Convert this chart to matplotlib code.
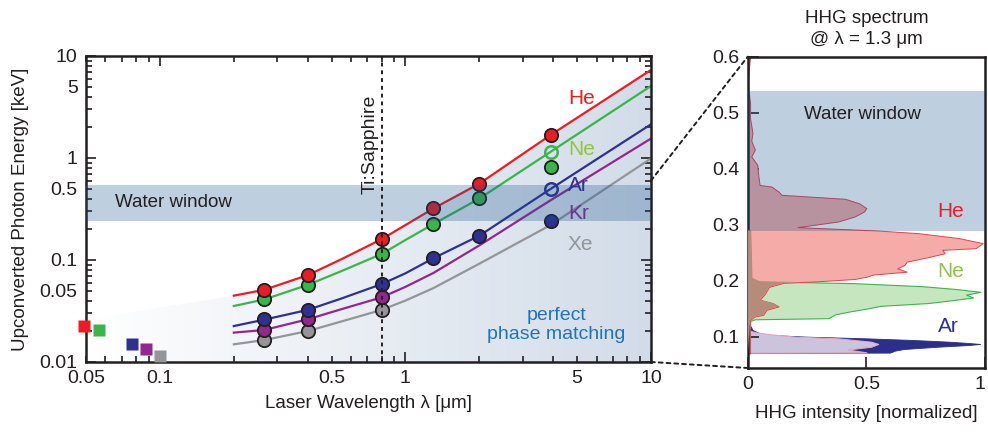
import numpy as np
import matplotlib
matplotlib.use('Agg')
import matplotlib.pyplot as plt
from matplotlib.patches import Polygon, ConnectionPatch
from matplotlib.colors import LinearSegmentedColormap
from matplotlib.ticker import FixedLocator, FuncFormatter

plt.rcParams['font.family'] = ['Liberation Sans', 'DejaVu Sans']

# ---------------- data: left panel ----------------
lam_curve = [0.2, 0.266, 0.4, 0.55, 0.8, 1.0, 1.3, 2.0, 3.9, 10.0]
curve_He = [0.0447, 0.051, 0.071, 0.102, 0.160, 0.22, 0.32, 0.56, 1.68, 7.3]
curve_Ne = [0.0354, 0.041, 0.057, 0.078, 0.1145, 0.157, 0.225, 0.40, 1.15, 5.08]
curve_Ar = [0.0225, 0.026, 0.0324, 0.042, 0.058, 0.074, 0.104, 0.173, 0.497, 2.14]
curve_Kr = [0.0194, 0.0206, 0.0262, 0.033, 0.043, 0.0545, 0.0746, 0.139, 0.385, 1.55]
curve_Xe = [0.0149, 0.0164, 0.0201, 0.025, 0.0324, 0.040, 0.053, 0.092, 0.22, 0.99]

lam_dots = [0.266, 0.4, 0.8, 1.3, 2.0, 3.9]
dots_He = [0.0508, 0.0708, 0.16, 0.321, 0.556, 1.68]
dots_Ne = [0.0415, 0.0569, 0.1145, 0.225, 0.403, 0.82]
dots_Ar = [0.0262, 0.0324, 0.058, 0.104, 0.173, 0.243]
lam_dots_short = [0.266, 0.4, 0.8]
dots_Kr = [0.0206, 0.0262, 0.043]
dots_Xe = [0.0164, 0.0201, 0.0324]

lam_open = [3.9]
open_Ne = [1.15]
open_Ar = [0.497]

sq_lam = [0.0493, 0.0566, 0.0767, 0.0877, 0.1004]
sq_E = [0.0227, 0.0206, 0.0149, 0.0134, 0.0115]

shade_start = (0.05, 0.026)
water_left = (0.243, 0.543)
ti_sapphire = 0.8

gases = ['He', 'Ne', 'Ar', 'Kr', 'Xe']

# ---------------- data: right panel ----------------
He_E = [0.07, 0.13, 0.136, 0.139, 0.148, 0.154, 0.16, 0.166, 0.175, 0.189, 0.196, 0.199,
        0.203, 0.207, 0.211, 0.216, 0.222, 0.228, 0.234, 0.242, 0.249, 0.255, 0.258, 0.267,
        0.276, 0.2848, 0.2895, 0.2956, 0.3056, 0.3145, 0.3235, 0.3295, 0.338, 0.3462, 0.3533,
        0.359, 0.368, 0.371, 0.386, 0.407, 0.422, 0.434, 0.45, 0.464, 0.49, 0.517, 0.55, 0.58, 0.6]
He_I = [0.01, 0.01, 0.03, 0.065, 0.08, 0.13, 0.105, 0.05, 0.07, 0.09, 0.15, 0.30,
        0.45, 0.50, 0.53, 0.67, 0.63, 0.66, 0.67, 0.76, 0.83, 0.82, 0.96, 0.99,
        0.89, 0.72, 0.55, 0.21, 0.38, 0.45, 0.49, 0.50, 0.47, 0.41, 0.143,
        0.13, 0.10, 0.05, 0.045, 0.04, 0.015, 0.03, 0.015, 0.02, 0.01, 0.01, 0.0, 0.005, 0.01]

Ne_E = [0.07, 0.128, 0.131, 0.133, 0.14, 0.145, 0.15, 0.155, 0.16, 0.165, 0.17, 0.175,
        0.18, 0.185, 0.19, 0.1955, 0.199, 0.205, 0.29]
Ne_I = [0.0, 0.01, 0.03, 0.34, 0.37, 0.43, 0.50, 0.56, 0.76, 0.86, 0.95, 0.92,
        0.98, 0.88, 0.74, 0.45, 0.05, 0.02, 0.015]

Ar_E = [0.071, 0.0715, 0.075, 0.078, 0.082, 0.085, 0.087, 0.089, 0.091, 0.094, 0.097,
        0.100, 0.103, 0.106, 0.112, 0.12, 0.13]
Ar_I = [0.0, 0.60, 0.62, 0.66, 0.80, 0.93, 0.98, 0.92, 0.85, 0.70, 0.50,
        0.25, 0.10, 0.05, 0.02, 0.01, 0.0]

ArLow_E = [0.0714, 0.072, 0.077, 0.082, 0.087, 0.091, 0.094, 0.097, 0.100, 0.104, 0.108, 0.112]
ArLow_I = [0.0, 0.50, 0.42, 0.52, 0.55, 0.52, 0.45, 0.38, 0.20, 0.10, 0.03, 0.0]

water_right = (0.289, 0.539)

# ---------------- styles ----------------
col = {'He': '#ed1c24', 'Ne': '#39b54a', 'Ar': '#2e3192', 'Kr': '#92278f', 'Xe': '#939598'}
lab_col = {'He': '#ed1c24', 'Ne': '#8dc63f', 'Ar': '#2e3192', 'Kr': '#92278f', 'Xe': '#939598'}
band_col = '#12518c'
band_alpha = 0.27
dark = '#231f20'

fig = plt.figure(figsize=(9.88, 4.33), dpi=100)
ax = fig.add_axes([0.0870, 0.164, 0.5719, 0.7067])
ax2 = fig.add_axes([0.7568, 0.1501, 0.2402, 0.719])

ax.set_xscale('log')
ax.set_yscale('log')
ax.set_autoscale_on(False)
ax.set_xlim(0.05, 10)
ax.set_ylim(0.01, 10)

# gradient shading under the He curve
grad = np.linspace(0, 1, 256).reshape(1, -1)
cmap = LinearSegmentedColormap.from_list('g', ['#ffffff', '#d2dce8'])
im = ax.imshow(grad, extent=[0, 1, 0, 1], transform=ax.transAxes, aspect='auto',
               cmap=cmap, zorder=0.5, interpolation='bilinear')
verts = [(0.05, 0.01), shade_start] + list(zip(lam_curve, curve_He)) + [(10.0, 0.01)]
poly = Polygon(verts, closed=True, transform=ax.transData, facecolor='none', edgecolor='none')
ax.add_patch(poly)
im.set_clip_path(poly)
ax.set_xlim(0.05, 10)
ax.set_ylim(0.01, 10)

curves = {'He': curve_He, 'Ne': curve_Ne, 'Ar': curve_Ar, 'Kr': curve_Kr, 'Xe': curve_Xe}
for g in gases[::-1]:
    ax.plot(lam_curve, curves[g], color=col[g], lw=1.6, zorder=2)

dots = [('Xe', lam_dots_short, dots_Xe), ('Kr', lam_dots_short, dots_Kr),
        ('Ar', lam_dots, dots_Ar), ('Ne', lam_dots, dots_Ne), ('He', lam_dots, dots_He)]
z = 3
for g, lx, ly in dots:
    for xv, yv in zip(lx, ly):
        ax.plot([xv], [yv], 'o', ms=9.6, mfc=col[g], mec=dark, mew=1.3, zorder=z)
    z += 0.1
ax.plot(lam_open, open_Ne, 'o', ms=9, mfc='none', mec=col['Ne'], mew=1.8, zorder=3.6)
ax.plot(lam_open, open_Ar, 'o', ms=9, mfc='none', mec=col['Ar'], mew=1.8, zorder=3.6)

for g, xv, yv in zip(gases, sq_lam, sq_E):
    ax.plot([xv], [yv], 's', ms=8, mfc=col[g], mec='none', zorder=3, clip_on=False)

ax.axhspan(water_left[0], water_left[1], color=band_col, alpha=band_alpha, lw=0, zorder=4)
ax.axvline(ti_sapphire, color=dark, ls=(0, (2.0, 2.0)), lw=1.4, zorder=5)

ax.text(0.052, (np.log10(water_left[0]) + np.log10(water_left[1]) + 4) / 6,
        'Water window', transform=ax.transAxes, fontsize=13.5,
        color=dark, va='center', ha='left', zorder=6)
ax.text(0.503, 0.712, 'Ti:Sapphire', transform=ax.transAxes, rotation=90, fontsize=14,
        color=dark, ha='center', va='center', zorder=6)
ax.text(0.832, 0.121, 'perfect\nphase matching', transform=ax.transAxes, fontsize=14,
        color='#1c75bc', ha='center', va='center', linespacing=1.15, zorder=6)
lab_pos = {'He': 0.862, 'Ne': 0.693, 'Ar': 0.578, 'Kr': 0.484, 'Xe': 0.385}
for g in gases:
    ax.text(0.853, lab_pos[g], g, transform=ax.transAxes, fontsize=15, color=lab_col[g],
            ha='left', va='center', zorder=3.9)

# ticks left panel
def fmt(v, p):
    return '%g' % v
def minor_fmt(v, p):
    m = v / 10 ** np.floor(np.log10(v) + 1e-9)
    return ('%g' % v) if abs(m - 5) < 1e-6 else ''
ax.xaxis.set_major_locator(FixedLocator([0.1, 1, 10]))
ax.xaxis.set_minor_locator(FixedLocator([m * d for d in (0.01, 0.1, 1) for m in range(2, 10)
                                         if 0.05 <= m * d <= 10]))
ax.yaxis.set_major_locator(FixedLocator([0.01, 0.1, 1, 10]))
ax.yaxis.set_minor_locator(FixedLocator([m * d for d in (0.01, 0.1, 1) for m in range(2, 10)]))
for a in (ax.xaxis, ax.yaxis):
    a.set_major_formatter(FuncFormatter(fmt))
    a.set_minor_formatter(FuncFormatter(minor_fmt))
ax.tick_params(which='both', direction='in', top=True, right=True, labelsize=14,
               width=1.2, color=dark, labelcolor=dark)
ax.tick_params(which='major', length=7, pad=6)
ax.tick_params(which='minor', length=4, pad=6)
for s in ax.spines.values():
    s.set_linewidth(1.8)
    s.set_color(dark)

fig.text(368 / 988, 1 - 404 / 433, 'Laser Wavelength λ [μm]', ha='center', va='center',
         fontsize=13.5, color=dark)
fig.text(21 / 988, 1 - 209 / 433, 'Upconverted Photon Energy [keV]', ha='center', va='center',
         rotation=90, fontsize=13.5, color=dark)

# ---------------- right panel ----------------
ax2.set_xlim(0, 1)
ax2.set_ylim(0.044, 0.6)
ax2.fill_betweenx(Ar_E, 0, Ar_I, facecolor='#2b2e8a', edgecolor='#2b2e8a', lw=0.6, zorder=1)
ax2.fill_betweenx(ArLow_E, 0, ArLow_I, facecolor='#cbc4df', edgecolor='#e3a9bd', lw=0.8, zorder=1.5)
ax2.fill_betweenx(Ne_E, 0, Ne_I, facecolor='#c6e6c0', edgecolor='#3cb44b', lw=0.8, zorder=2)
ax2.fill_betweenx(He_E, 0, He_I, facecolor='#f5aba7', edgecolor='#e8404a', lw=0.7, zorder=2.5)
grid_E = np.linspace(min(Ne_E), max(Ne_E), 600)
overlap = np.minimum(np.interp(grid_E, He_E, He_I), np.interp(grid_E, Ne_E, Ne_I))
ax2.fill_betweenx(grid_E, 0, overlap, facecolor='#b58b79', edgecolor='none', lw=0, zorder=2.7)
ax2.axhspan(water_right[0], water_right[1], color=band_col, alpha=band_alpha, lw=0, zorder=3)

ax2.text(0.484, 0.496, 'Water window', fontsize=13.5, color=dark, ha='center', va='center', zorder=4)
ax2.text(0.855, 0.3235, 'He', fontsize=15, color=lab_col['He'], ha='center', va='center', zorder=4)
ax2.text(0.855, 0.216, 'Ne', fontsize=15, color=lab_col['Ne'], ha='center', va='center', zorder=4)
ax2.text(0.845, 0.119, 'Ar', fontsize=15, color=lab_col['Ar'], ha='center', va='center', zorder=4)

ax2.set_xticks([0, 0.5, 1])
ax2.set_xticklabels(['0', '0.5', '1'])
ax2.get_xticklabels()[-1].set_horizontalalignment('right')
ax2.set_yticks([0.1, 0.2, 0.3, 0.4, 0.5, 0.6])
ax2.yaxis.set_major_formatter(FuncFormatter(fmt))
ax2.tick_params(direction='in', length=8, width=1.2, labelsize=14, pad=6,
                color=dark, labelcolor=dark)
for s in ax2.spines.values():
    s.set_linewidth(1.8)
    s.set_color(dark)
ax2.text(0.5, 1.124, 'HHG spectrum', transform=ax2.transAxes, ha='center', va='center',
         fontsize=13.5, color=dark)
ax2.text(0.5, 1.054, '@ λ = 1.3 μm', transform=ax2.transAxes, ha='center', va='center',
         fontsize=13.5, color=dark)
fig.text(866 / 988, 1 - 413 / 433, 'HHG intensity [normalized]', ha='center', va='center',
         fontsize=13.5, color=dark)

for xyA, xyB in [((10, 0.6), (0, 0.6)), ((10, 0.01), (0, 0.044))]:
    con = ConnectionPatch(xyA=xyA, coordsA=ax.transData, xyB=xyB, coordsB=ax2.transData,
                          ls=(0, (2.0, 2.0)), lw=1.4, color=dark)
    fig.add_artist(con)

fig.savefig('out.png', dpi=100)
